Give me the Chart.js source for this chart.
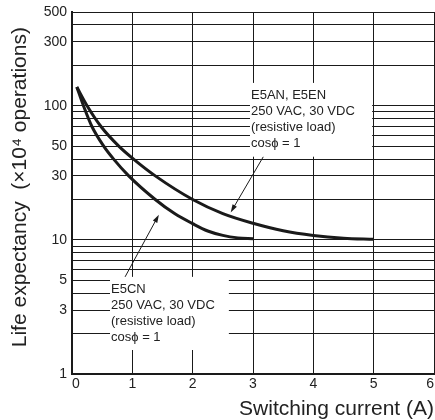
<!DOCTYPE html>
<html>
<head>
<meta charset="utf-8">
<script src="https://cdn.jsdelivr.net/npm/chart.js@4"></script>
<style>
  html, body { margin: 0; padding: 0; background: #fff; }
</style>
</head>
<body>
<canvas id="graphic" width="435" height="420"></canvas>
<script>
// E5AN, E5EN curve
const currentE5AN = [0.08, 0.25, 0.48, 0.775, 1.02, 1.38, 2, 2.5, 3, 3.5, 4, 4.5, 5];
const lifeE5AN = [138, 100, 70, 50, 40, 30, 20, 15.7, 13.3, 11.7, 10.8, 10.3, 10.1];
// E5CN curve
const currentE5CN = [0.08, 0.19, 0.33, 0.525, 0.69, 0.94, 1.38, 1.7, 2, 2.25, 2.5, 2.75, 3];
const lifeE5CN = [138, 100, 70, 50, 40, 30, 20, 15.7, 13.2, 11.65, 10.8, 10.35, 10.2];

const yGrid = [1, 2, 3, 4, 5, 6, 7, 8, 9, 10, 20, 30, 40, 50, 60, 70, 80, 90, 100, 200, 300, 400, 500];
const yLabels = [1, 3, 5, 10, 30, 50, 100, 300, 500];
const xLabels = [0, 1, 2, 3, 4, 5, 6];

const noteE5AN = ['E5AN, E5EN', '250 VAC, 30 VDC', '(resistive load)', 'cos\u03D5 = 1'];
const noteE5CN = ['E5CN', '250 VAC, 30 VDC', '(resistive load)', 'cos\u03D5 = 1'];

const ink = '#1a1a1a';
const textInk = '#222';
const family = '"Liberation Sans", Arial, Helvetica, sans-serif';

// white boxes with text, box corners and arrows in data units
const notes = [
  { lines: noteE5AN, box: [2.95, 148, 4.975, 41.7], arrow: [3.17, 41.6, 2.63, 16.0] },
  { lines: noteE5CN, box: [0.63, 5.3, 2.6, 1.51], arrow: [0.88, 5.3, 1.44, 15.4] },
];

const notePlugin = {
  id: 'notes',
  beforeDatasetsDraw(chart) {
    const { ctx, scales: { x, y } } = chart;
    ctx.save();
    notes.forEach(n => {
      const x0 = x.getPixelForValue(n.box[0]);
      const y0 = y.getPixelForValue(n.box[1]);
      const x1 = x.getPixelForValue(n.box[2]);
      const y1 = y.getPixelForValue(n.box[3]);
      ctx.fillStyle = '#fff';
      ctx.fillRect(x0, y0, x1 - x0, y1 - y0);

      ctx.fillStyle = textInk;
      ctx.font = '13px ' + family;
      ctx.textBaseline = 'alphabetic';
      ctx.textAlign = 'left';
      n.lines.forEach((t, i) => ctx.fillText(t, x0 + 1, y0 + 16 + i * 16));

      const ax = x.getPixelForValue(n.arrow[0]);
      const ay = y.getPixelForValue(n.arrow[1]);
      const bx = x.getPixelForValue(n.arrow[2]);
      const by = y.getPixelForValue(n.arrow[3]);
      const ang = Math.atan2(by - ay, bx - ax);
      ctx.strokeStyle = ink;
      ctx.lineWidth = 1;
      ctx.beginPath();
      ctx.moveTo(ax, ay);
      ctx.lineTo(bx - 6 * Math.cos(ang), by - 6 * Math.sin(ang));
      ctx.stroke();
      ctx.fillStyle = ink;
      ctx.beginPath();
      ctx.moveTo(bx, by);
      ctx.lineTo(bx - 8 * Math.cos(ang) + 2.5 * Math.sin(ang), by - 8 * Math.sin(ang) - 2.5 * Math.cos(ang));
      ctx.lineTo(bx - 8 * Math.cos(ang) - 2.5 * Math.sin(ang), by - 8 * Math.sin(ang) + 2.5 * Math.cos(ang));
      ctx.closePath();
      ctx.fill();
    });
    ctx.restore();
  }
};

const curve = (xs, ys, label) => ({
  label,
  data: xs.map((v, i) => ({ x: v, y: ys[i] })),
  borderColor: ink,
  borderWidth: 3,
  pointRadius: 0,
  fill: false,
  cubicInterpolationMode: 'monotone',
  borderCapStyle: 'butt',
});

const graphic = document.getElementById('graphic');
new Chart(graphic, {
  type: 'line',
  data: {
    datasets: [
      curve(currentE5AN, lifeE5AN, 'E5AN, E5EN'),
      curve(currentE5CN, lifeE5CN, 'E5CN'),
    ],
  },
  options: {
    responsive: false,
    animation: false,
    layout: { padding: { top: 12, right: 1, left: 0, bottom: 0 } },
    plugins: { legend: { display: false }, tooltip: { enabled: false } },
    scales: {
      x: {
        type: 'linear',
        min: 0,
        max: 6,
        afterBuildTicks(s) { s.ticks = xLabels.map(v => ({ value: v })); },
        ticks: { align: 'inner', padding: 2, color: textInk, font: { family, size: 14 }, autoSkip: false, maxRotation: 0 },
        grid: { color: ink, lineWidth: 1, drawTicks: false },
        border: { color: ink, width: 2 },
        title: {
          display: true, text: 'Switching current (A)', align: 'end', color: textInk,
          font: { family, size: 21, lineHeight: 1 }, padding: 0,
        },
        afterFit(s) { s.height = 46; s.paddingLeft = 0; s.paddingRight = 0; },
      },
      y: {
        type: 'logarithmic',
        min: 1,
        max: 500,
        afterBuildTicks(s) { s.ticks = yGrid.map(v => ({ value: v })); },
        ticks: {
          callback: v => (yLabels.includes(v) ? String(v) : ''),
          padding: 5, color: textInk, font: { family, size: 14 }, autoSkip: false,
        },
        grid: { color: ink, lineWidth: 1, drawTicks: false },
        border: { color: ink, width: 2 },
        title: {
          display: true, text: '\u00a0\u00a0Life expectancy  (\u00d710\u2074 operations)', color: textInk,
          font: { family, size: 21, lineHeight: 1 }, padding: { top: 10, bottom: 0 },
        },
        afterFit(s) { s.width = 72; s.paddingTop = 0; s.paddingBottom = 0; },
      },
    },
  },
  plugins: [notePlugin],
});
</script>
</body>
</html>
